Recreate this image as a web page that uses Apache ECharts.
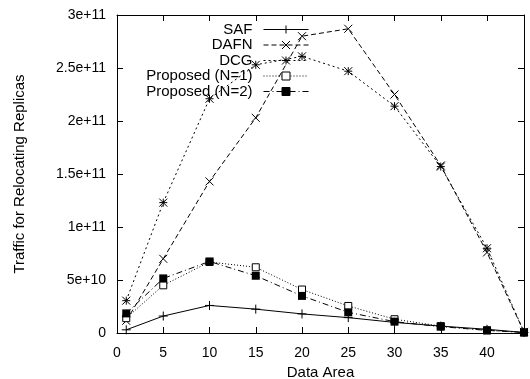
<!DOCTYPE html>
<html>
<head>
<meta charset="utf-8">
<script src="https://cdn.jsdelivr.net/npm/echarts@6/dist/echarts.min.js"></script>
<style>html,body{margin:0;padding:0;background:#fff;}#c{width:530px;height:379px;}</style>
</head>
<body>
<div id="c"></div>
<script>
var dataArea = [1, 5, 10, 15, 20, 25, 30, 35, 40, 44];
var saf  = [0.3e10, 1.6e10, 2.6e10, 2.25e10, 1.8e10, 1.45e10, 1.0e10, 0.65e10, 0.35e10, 0.05e10];
var dafn = [1.15e10, 7.0e10, 14.3e10, 20.3e10, 28.0e10, 28.7e10, 22.5e10, 15.8e10, 7.6e10, 0.1e10];
var dcg  = [3.05e10, 12.3e10, 22.1e10, 25.3e10, 26.1e10, 24.7e10, 21.4e10, 15.7e10, 8.0e10, 0.1e10];
var prop1 = [1.4e10, 4.5e10, 6.7e10, 6.2e10, 4.1e10, 2.55e10, 1.3e10, 0.65e10, 0.25e10, 0.05e10];
var prop2 = [1.85e10, 5.15e10, 6.75e10, 5.4e10, 3.5e10, 1.95e10, 1.07e10, 0.6e10, 0.25e10, 0.05e10];
var seriesNames = ['SAF', 'DAFN', 'DCG', 'Proposed (N=1)', 'Proposed (N=2)'];
var yTickValues = [0, 5e10, 1e11, 1.5e11, 2e11, 2.5e11, 3e11];
var yTickLabels = ['0', '5e+10', '1e+11', '1.5e+11', '2e+11', '2.5e+11', '3e+11'];

function pairs(ys) { return dataArea.map(function (x, i) { return [x, ys[i]]; }); }

var FONT = 'Liberation Sans, Arial, Helvetica, sans-serif';
var strokeItem = { color: 'rgba(0,0,0,0)', borderColor: '#000', borderWidth: 1 };

function mk(name, ys, symbol, size, itemStyle, lineType) {
  return {
    name: name, type: 'line', data: pairs(ys),
    symbol: symbol, symbolSize: size, showAllSymbol: true,
    itemStyle: itemStyle,
    lineStyle: { color: '#000', width: 1, type: lineType },
    emphasis: { disabled: true }, z: 3
  };
}

var chart = echarts.init(document.getElementById('c'), null, { renderer: 'canvas' });
var axisCommonX = { type: 'value', min: 0, max: 44, interval: 5, splitLine: { show: false },
  axisLine: { onZero: false, lineStyle: { color: '#000', width: 1 } },
  axisTick: { inside: true, length: 6, lineStyle: { color: '#000' } } };
var axisCommonY = { type: 'value', min: 0, max: 3e11, interval: 5e10, splitLine: { show: false },
  axisLine: { onZero: false, lineStyle: { color: '#000', width: 1 } },
  axisTick: { inside: true, length: 6, lineStyle: { color: '#000' } } };

chart.setOption({
  animation: false,
  backgroundColor: '#fff',
  textStyle: { fontFamily: FONT, color: '#000' },
  grid: { left: 117, right: 6, top: 15, bottom: 46, containLabel: false, outerBoundsMode: 'none' },
  xAxis: [
    Object.assign({}, axisCommonX, {
      position: 'bottom',
      name: 'Data Area', nameLocation: 'middle', nameGap: 32,
      nameTextStyle: { fontFamily: FONT, fontSize: 15, color: '#000' },
      axisLabel: { show: true, margin: 13, fontFamily: FONT, fontSize: 14, color: '#000', showMaxLabel: false }
    }),
    Object.assign({}, axisCommonX, { position: 'top', axisLabel: { show: false } })
  ],
  yAxis: [
    Object.assign({}, axisCommonY, {
      position: 'left',
      name: 'Traffic for Relocating Replicas', nameLocation: 'middle', nameGap: 90,
      nameTextStyle: { fontFamily: FONT, fontSize: 15, color: '#000' },
      axisLabel: { show: true, margin: 11, fontFamily: FONT, fontSize: 14, color: '#000',
        formatter: function (v) { var i = yTickValues.indexOf(v); return i >= 0 ? yTickLabels[i] : ''; } }
    }),
    Object.assign({}, axisCommonY, { position: 'right', axisLabel: { show: false } })
  ],
  legend: {
    orient: 'vertical', align: 'right', right: 221, top: 22, padding: 0,
    itemWidth: 45, itemHeight: 10, itemGap: 0.5,
    lineStyle: { width: 1 },
    itemStyle: { borderWidth: 1 },
    textStyle: { fontFamily: FONT, fontSize: 15, color: '#000', lineHeight: 15, padding: [0, 6, 0, 0] },
    data: seriesNames
  },
  series: [
    mk(seriesNames[0], saf, 'path://M0,5L10,5M5,0L5,10', 9, strokeItem, 'solid'),
    mk(seriesNames[1], dafn, 'path://M0,0L10,10M10,0L0,10', 8, strokeItem, [5, 3]),
    mk(seriesNames[2], dcg, 'path://M0,0L10,10M10,0L0,10M0,5L10,5M5,0L5,10', 8, strokeItem, [2, 3]),
    mk(seriesNames[3], prop1, 'rect', 7, { color: '#fff', borderColor: '#000', borderWidth: 1 }, [1, 2]),
    mk(seriesNames[4], prop2, 'rect', 8, { color: '#000', borderColor: '#000', borderWidth: 0 }, [6, 3, 1, 3])
  ]
});
</script>
</body>
</html>
